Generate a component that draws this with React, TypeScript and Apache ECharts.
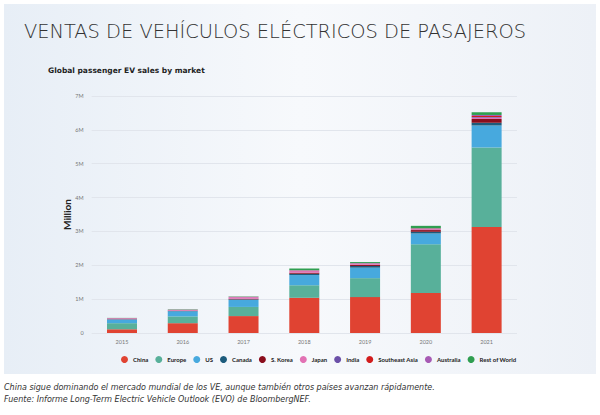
import React, { useEffect, useRef } from "react";
import * as echarts from "echarts";

const years = ["2015", "2016", "2017", "2018", "2019", "2020", "2021"];
const china = [0.11, 0.29, 0.5, 1.04, 1.06, 1.18, 3.13];
const europe = [0.18, 0.2, 0.27, 0.37, 0.56, 1.44, 2.35];
const us = [0.11, 0.15, 0.21, 0.3, 0.31, 0.32, 0.65];
const canada = [0.005, 0.01, 0.015, 0.04, 0.05, 0.05, 0.08];
const sKorea = [0.005, 0.01, 0.015, 0.03, 0.035, 0.05, 0.11];
const japan = [0.025, 0.025, 0.05, 0.06, 0.03, 0.03, 0.04];
const india = [0.002, 0.002, 0.003, 0.005, 0.005, 0.005, 0.02];
const southeastAsia = [0.002, 0.002, 0.003, 0.005, 0.005, 0.01, 0.03];
const australia = [0.002, 0.002, 0.003, 0.005, 0.01, 0.01, 0.03];
const restOfWorld = [0.005, 0.01, 0.01, 0.05, 0.03, 0.07, 0.08];

const seriesNames = ["China", "Europe", "US", "Canada", "S. Korea", "Japan", "India", "Southeast Asia", "Australia", "Rest of World"];
const seriesValues = [china, europe, us, canada, sKorea, japan, india, southeastAsia, australia, restOfWorld];
const seriesColors = ["#e04332", "#58b09a", "#47a9de", "#1c5b7c", "#8a0d1c", "#e272b4", "#6b50a8", "#d21c1c", "#a75ab4", "#2f9e50"];

const titleText = "VENTAS DE VEHÍCULOS ELÉCTRICOS DE PASAJEROS";
const subtitleText = "Global passenger EV sales by market";
const caption1 = "China sigue dominando el mercado mundial de los VE, aunque también otros países avanzan rápidamente.";
const caption2 = "Fuente: Informe Long-Term Electric Vehicle Outlook (EVO) de BloombergNEF.";

export default function App() {
  const ref = useRef<HTMLDivElement>(null);
  useEffect(() => {
    document.body.style.margin = "0";
    const chart = echarts.init(ref.current!, null, { renderer: "svg" });
    chart.setOption({
      animation: false,
      backgroundColor: "#ffffff",
      graphic: [
        {
          type: "rect",
          z: -10,
          shape: { x: 4, y: 4, width: 592, height: 370 },
          style: {
            fill: new echarts.graphic.LinearGradient(0, 0, 1, 0, [
              { offset: 0, color: "#e7eef6" },
              { offset: 0.5, color: "#f7f9fc" },
              { offset: 1, color: "#edf1f7" },
            ]),
          },
        },
        {
          type: "text",
          left: 24,
          top: 22,
          style: { text: titleText, fontSize: 19.4, fontFamily: "DejaVu Sans", fontWeight: 200, fill: "#333" },
        },
        {
          type: "text",
          left: 48,
          top: 66,
          style: { text: subtitleText, fontSize: 7.5, fontFamily: "DejaVu Sans", fontWeight: "bold", fill: "#222" },
        },
        {
          type: "text",
          left: 4,
          top: 383,
          style: { text: caption1, fontSize: 8, fontFamily: "DejaVu Sans", fontStyle: "italic", fill: "#333" },
        },
        {
          type: "text",
          left: 4,
          top: 395,
          style: { text: caption2, fontSize: 8, fontFamily: "DejaVu Sans", fontStyle: "italic", fill: "#333" },
        },
      ],
      legend: {
        left: 116,
        top: 351,
        icon: "circle",
        itemWidth: 7,
        itemHeight: 7,
        itemGap: 7,
        textStyle: { fontSize: 6, fontWeight: "bold", fontFamily: "Lato", color: "#222" },
        data: seriesNames,
      },
      grid: { left: 91.6, right: 83, top: 96, bottom: 82, containLabel: false },
      xAxis: {
        type: "category",
        data: years,
        axisLine: { show: false },
        axisTick: { show: false },
        axisLabel: { fontSize: 5.5, color: "#777", margin: 6, fontFamily: "Lato" },
      },
      yAxis: {
        type: "value",
        min: 0,
        max: 7,
        interval: 1,
        name: "Million",
        nameLocation: "middle",
        nameGap: 20,
        nameMoveOverlap: false,
        nameTextStyle: { fontSize: 10, fontWeight: "bold", color: "#222", fontFamily: "Lato" },
        axisLabel: {
          fontSize: 5.5,
          color: "#777",
          margin: 8,
          fontFamily: "Lato",
          formatter: (v: number) => (v === 0 ? "0" : v + "M"),
        },
        splitLine: { lineStyle: { color: "#e1e5ec", width: 1 } },
      },
      series: seriesNames.map((name, i) => ({
        name,
        type: "bar",
        stack: "total",
        barWidth: 30,
        data: seriesValues[i],
        itemStyle: { color: seriesColors[i] },
      })),
    });
    return () => chart.dispose();
  }, []);
  return <div ref={ref} style={{ width: 600, height: 415 }} />;
}
